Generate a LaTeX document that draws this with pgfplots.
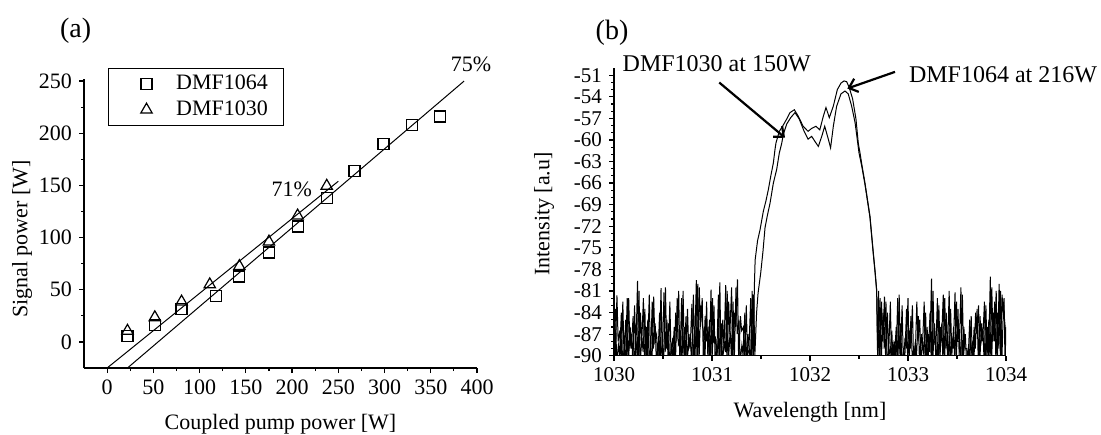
\documentclass[border=0pt]{standalone}
\usepackage{fontspec}
\setmainfont{Liberation Serif}
\usepackage{pgfplots}
\pgfplotsset{compat=1.18}
\usetikzlibrary{arrows.meta}
\pgfplotsset{
  myaxis/.style={
    scale only axis,
    axis lines=left,
    axis line style={line width=0.7pt,-},
    tick align=outside,
    major tick length=2.5pt,
    minor tick length=1.5pt,
    every tick/.style={line width=0.6pt,black},
    label style={font=\fontsize{11}{13}\selectfont},
    /pgf/number format/assume math mode=true,
    /pgf/number format/1000 sep={},
    anchor=south west,
  },
  mylegimg/.style={legend image code/.code={\path[draw=none] (0cm,0cm) -- (0.55cm,0cm); \draw[##1] plot coordinates {(0.45cm,0cm)};}},
}
\begin{document}
\begin{tikzpicture}[x=1pt,y=1pt]
\path[use as bounding box] (0,0) rectangle (550.5,217);
% ---------------- panel (a)
\begin{axis}[myaxis,
  at={(42pt,33pt)}, width=196.5pt, height=144.5pt,
  xmin=-25, xmax=400, ymin=-25, ymax=252,
  xtick={0,50,...,400}, ytick={0,50,...,250}, minor tick num=1,
  tick label style={font=\fontsize{11}{13}\selectfont},
  xlabel={Coupled pump power [W]},
  ylabel={Signal power [W]},
  xlabel style={at={(axis description cs:0.5,0)}, anchor=base, yshift=-30.5pt},
  ylabel style={at={(axis description cs:0,0.446)}, anchor=center, yshift=31pt},
  clip=false,
  legend style={at={(0.0618,1.039)}, anchor=north west, draw=black, line width=0.6pt,
    font=\fontsize{11}{13}\selectfont, inner xsep=6pt, inner ysep=2pt,
    row sep=1pt, nodes={inner ysep=1.5pt},
    /tikz/every odd column/.append style={column sep=10pt}},
  legend cell align=left,
]
\addplot[only marks, mark=square, mark size=2.75pt, mark options={line width=0.6pt, black}, mylegimg]
 coordinates {(22,5.4) (51.6,15.9) (80.5,31.6) (117.7,44.3) (143,62.8) (175,85.7) (206,110.6) (237.5,137.8) (267.5,163.9) (298.9,189.8) (329.6,208) (360.3,216)};
\addlegendentry{DMF1064}
\addplot[only marks, mark=triangle, mark size=3.3pt, mark options={line width=0.6pt, black}, mylegimg]
 coordinates {(22,10.5) (51.6,23.5) (80.5,38.5) (111,55) (143,72.5) (175,96) (206,121) (237.5,149.5)};
\addlegendentry{DMF1030}
\addplot[black, line width=0.5pt, forget plot] coordinates {(0,-25) (250,154)};
\addplot[black, line width=0.5pt, forget plot] coordinates {(22,-25) (386,250)};
\end{axis}
\node[font=\fontsize{14}{16}\selectfont] at (37.85,201.5) {(a)};
\node[font=\fontsize{11}{13}\selectfont] at (235.5,184.65) {75\%};
\node[font=\fontsize{11}{13}\selectfont] at (145.85,122.25) {71\%};
% ---------------- panel (b)
\begin{axis}[myaxis,
  at={(307pt,39.15pt)}, width=196pt, height=143.85pt,
  xmin=1030, xmax=1034, ymin=-90, ymax=-50,
  xtick={1030,1031,1032,1033,1034}, xticklabels={1030,1031,1032,1033,1034},
  ytick={-90,-87,-84,-81,-78,-75,-72,-69,-66,-63,-60,-57,-54,-51},
  yticklabels={-90,-87,-84,-81,-78,-75,-72,-69,-66,-63,-60,-57,-54,-51},
  minor x tick num=1, minor y tick num=2,
  tick label style={font=\fontsize{10.5}{12}\selectfont},
  xlabel={Wavelength [nm]},
  ylabel={Intensity [a.u]},
  xlabel style={at={(axis description cs:0.5,0)}, anchor=base, yshift=-30.8pt},
  ylabel style={at={(axis description cs:0,0.4925)}, anchor=center, yshift=35pt},
  clip mode=individual,
]
\addplot[black, line width=0.5pt] coordinates {
(1030.000,-82.0) (1030.012,-90.5) (1030.030,-81.6) (1030.042,-88.0) (1030.060,-86.5) (1030.072,-91) (1030.090,-82.5) (1030.102,-90) (1030.120,-85.0) (1030.132,-91) (1030.150,-82.0) (1030.162,-89) (1030.180,-87.0) (1030.192,-91) (1030.210,-83.0) (1030.222,-90) (1030.240,-79.6) (1030.252,-91) (1030.270,-84.0) (1030.282,-88.5) (1030.300,-82.0) (1030.312,-91) (1030.330,-86.0) (1030.342,-90) (1030.360,-81.5) (1030.372,-91) (1030.390,-82.5) (1030.402,-89) (1030.420,-85.5) (1030.432,-91) (1030.450,-88.0) (1030.462,-90.5) (1030.480,-80.6) (1030.492,-91) (1030.510,-81.2) (1030.522,-89.5) (1030.540,-85.0) (1030.552,-91) (1030.570,-82.5) (1030.582,-90) (1030.600,-87.5) (1030.612,-91) (1030.630,-84.0) (1030.642,-88) (1030.660,-81.0) (1030.672,-91) (1030.690,-82.0) (1030.702,-90) (1030.720,-86.0) (1030.732,-91) (1030.750,-83.5) (1030.762,-89) (1030.780,-88.0) (1030.792,-91) (1030.810,-81.5) (1030.822,-90) (1030.840,-79.5) (1030.852,-91) (1030.870,-80.5) (1030.882,-86) (1030.900,-82.0) (1030.912,-91) (1030.930,-84.5) (1030.942,-88) (1030.960,-86.0) (1030.972,-91) (1030.990,-80.8) (1031.002,-90) (1031.020,-83.0) (1031.032,-91) (1031.050,-88.5) (1031.062,-90) (1031.080,-79.8) (1031.092,-91) (1031.110,-85.0) (1031.122,-89) (1031.140,-80.2) (1031.152,-91) (1031.170,-82.5) (1031.182,-87) (1031.200,-80.5) (1031.212,-91) (1031.230,-84.0) (1031.242,-86) (1031.260,-79.4) (1031.272,-91) (1031.290,-84.5) (1031.302,-86.5) (1031.320,-86.0) (1031.332,-91) (1031.350,-83.0) (1031.362,-90) (1031.380,-89.0) (1031.392,-91) (1031.410,-81.0) (1031.422,-90.5) (1031.432,-80.5) (1031.440,-76.7) (1031.465,-74.0) (1031.490,-72.5) (1031.524,-69.9) (1031.550,-68.5) (1031.575,-66.9) (1031.600,-65.0) (1031.626,-63.2) (1031.643,-61.3) (1031.653,-60.4) (1031.687,-58.8) (1031.720,-58.1) (1031.762,-57.1) (1031.796,-56.2) (1031.840,-55.8) (1031.880,-56.7) (1031.930,-58.1) (1031.980,-58.8) (1032.017,-58.4) (1032.060,-58.1) (1032.100,-58.6) (1032.136,-56.7) (1032.163,-55.5) (1032.197,-56.9) (1032.238,-55.3) (1032.279,-53.0) (1032.316,-52.1) (1032.347,-51.8) (1032.374,-51.9) (1032.400,-52.7) (1032.435,-54.3) (1032.469,-57.1) (1032.493,-60.5) (1032.510,-61.8) (1032.530,-63.5) (1032.561,-66.0) (1032.612,-70.6) (1032.646,-75.7) (1032.663,-78.1) (1032.680,-80.8) (1032.690,-90.5)
(1032.700,-81.0) (1032.712,-91) (1032.730,-82.5) (1032.742,-88) (1032.760,-81.8) (1032.772,-91) (1032.790,-84.0) (1032.802,-90) (1032.820,-82.5) (1032.832,-91) (1032.850,-88.5) (1032.862,-90) (1032.880,-86.0) (1032.892,-91) (1032.910,-81.5) (1032.922,-90.5) (1032.940,-83.0) (1032.952,-91) (1032.970,-87.5) (1032.982,-89) (1033.000,-82.0) (1033.012,-91) (1033.030,-84.5) (1033.042,-90) (1033.060,-89.0) (1033.072,-91) (1033.090,-82.5) (1033.102,-88) (1033.120,-85.0) (1033.132,-91) (1033.150,-88.0) (1033.162,-90) (1033.180,-84.0) (1033.192,-91) (1033.210,-87.0) (1033.222,-89.5) (1033.240,-79.3) (1033.252,-91) (1033.270,-85.5) (1033.282,-90) (1033.300,-82.0) (1033.312,-91) (1033.330,-86.0) (1033.342,-88) (1033.360,-81.5) (1033.372,-91) (1033.390,-84.0) (1033.402,-90) (1033.420,-81.0) (1033.432,-91) (1033.450,-87.5) (1033.462,-89) (1033.480,-81.2) (1033.492,-91) (1033.510,-83.5) (1033.522,-90) (1033.540,-80.5) (1033.552,-91) (1033.570,-86.0) (1033.582,-89) (1033.600,-89.0) (1033.612,-91) (1033.630,-85.0) (1033.642,-90) (1033.660,-88.0) (1033.672,-91) (1033.690,-84.0) (1033.702,-87) (1033.720,-83.0) (1033.732,-91) (1033.750,-85.5) (1033.762,-88) (1033.780,-82.5) (1033.792,-91) (1033.810,-86.0) (1033.822,-90) (1033.840,-79.0) (1033.852,-91) (1033.870,-84.0) (1033.882,-88) (1033.900,-81.0) (1033.912,-91) (1033.930,-80.0) (1033.942,-90) (1033.960,-81.5) (1033.970,-84) (1033.980,-82.0) (1033.990,-91) (1034.000,-86.0)
};
\addplot[black, line width=0.5pt] coordinates {
(1030.015,-83.5) (1030.027,-91) (1030.045,-88.5) (1030.057,-90) (1030.075,-84.0) (1030.087,-91) (1030.105,-89.0) (1030.117,-90.5) (1030.135,-82.0) (1030.147,-91) (1030.165,-86.0) (1030.177,-89) (1030.195,-84.5) (1030.207,-91) (1030.225,-88.0) (1030.237,-90) (1030.255,-81.0) (1030.267,-91) (1030.285,-87.5) (1030.297,-89.5) (1030.315,-83.5) (1030.327,-91) (1030.345,-85.0) (1030.357,-90) (1030.375,-89.0) (1030.387,-91) (1030.405,-81.8) (1030.417,-88) (1030.435,-87.0) (1030.447,-91) (1030.465,-84.0) (1030.477,-90) (1030.495,-88.5) (1030.507,-91) (1030.525,-80.5) (1030.537,-89) (1030.555,-85.5) (1030.567,-91) (1030.585,-89.0) (1030.597,-90) (1030.615,-86.0) (1030.627,-91) (1030.645,-82.0) (1030.657,-88.5) (1030.675,-88.0) (1030.687,-91) (1030.705,-81.0) (1030.717,-90) (1030.735,-84.5) (1030.747,-91) (1030.765,-87.0) (1030.777,-89) (1030.795,-82.8) (1030.807,-91) (1030.825,-86.0) (1030.837,-90) (1030.855,-80.0) (1030.867,-91) (1030.885,-83.0) (1030.897,-85) (1030.915,-87.0) (1030.927,-91) (1030.945,-82.5) (1030.957,-90) (1030.975,-85.0) (1030.987,-91) (1031.005,-82.0) (1031.017,-88) (1031.035,-87.5) (1031.047,-91) (1031.065,-81.5) (1031.077,-90) (1031.095,-85.5) (1031.107,-91) (1031.125,-88.0) (1031.137,-89.5) (1031.155,-81.0) (1031.167,-91) (1031.185,-86.5) (1031.197,-90) (1031.215,-82.5) (1031.227,-91) (1031.245,-80.5) (1031.257,-87) (1031.275,-85.0) (1031.287,-91) (1031.305,-88.5) (1031.317,-90) (1031.335,-84.0) (1031.347,-91) (1031.365,-87.0) (1031.377,-89) (1031.395,-82.0) (1031.407,-91) (1031.425,-81.5) (1031.437,-90) (1031.455,-84.0) (1031.470,-81.3) (1031.497,-78.5) (1031.520,-75.5) (1031.541,-72.2) (1031.565,-70.5) (1031.592,-68.8) (1031.626,-66.0) (1031.660,-64.1) (1031.687,-61.8) (1031.711,-60.5) (1031.728,-59.2) (1031.762,-57.8) (1031.803,-56.9) (1031.847,-56.2) (1031.890,-57.1) (1031.940,-58.8) (1031.980,-59.9) (1032.017,-59.5) (1032.050,-60.2) (1032.085,-60.9) (1032.120,-59.5) (1032.150,-58.1) (1032.187,-59.9) (1032.210,-61.1) (1032.238,-58.1) (1032.272,-55.3) (1032.316,-53.6) (1032.357,-53.2) (1032.390,-53.6) (1032.425,-55.3) (1032.460,-57.6) (1032.500,-61.8) (1032.530,-63.8) (1032.561,-66.2) (1032.612,-70.8) (1032.646,-75.9) (1032.663,-78.3) (1032.680,-81.0) (1032.692,-90.5)
(1032.715,-82.0) (1032.727,-91) (1032.745,-84.0) (1032.757,-89) (1032.775,-82.5) (1032.787,-91) (1032.805,-89.0) (1032.817,-90) (1032.835,-86.5) (1032.847,-91) (1032.865,-88.0) (1032.877,-91) (1032.895,-82.0) (1032.907,-90) (1032.925,-85.5) (1032.937,-91) (1032.955,-89.5) (1032.967,-90.5) (1032.985,-83.5) (1032.997,-91) (1033.015,-86.5) (1033.027,-89) (1033.045,-83.0) (1033.057,-91) (1033.075,-88.0) (1033.087,-90) (1033.105,-84.5) (1033.117,-91) (1033.135,-87.0) (1033.147,-89) (1033.165,-82.5) (1033.177,-91) (1033.195,-86.0) (1033.207,-90) (1033.225,-84.0) (1033.237,-91) (1033.255,-81.0) (1033.267,-88) (1033.285,-88.5) (1033.297,-91) (1033.315,-83.0) (1033.327,-90) (1033.345,-85.5) (1033.357,-91) (1033.375,-82.0) (1033.387,-89) (1033.405,-87.0) (1033.417,-91) (1033.435,-83.5) (1033.447,-90) (1033.465,-86.0) (1033.477,-91) (1033.495,-82.5) (1033.507,-88) (1033.525,-88.0) (1033.537,-91) (1033.555,-81.5) (1033.567,-90) (1033.585,-87.0) (1033.597,-91) (1033.615,-89.0) (1033.627,-90) (1033.645,-84.5) (1033.657,-91) (1033.675,-86.0) (1033.687,-89) (1033.705,-83.5) (1033.717,-91) (1033.735,-84.5) (1033.747,-88) (1033.765,-86.5) (1033.777,-91) (1033.795,-83.0) (1033.807,-90) (1033.825,-85.0) (1033.837,-91) (1033.855,-80.5) (1033.867,-88) (1033.885,-82.5) (1033.897,-91) (1033.915,-84.0) (1033.927,-89) (1033.945,-81.0) (1033.957,-91) (1033.975,-82.5) (1033.985,-85) (1033.995,-86.5)
};
\draw[line width=1.1pt, -{Straight Barb[length=4pt,width=7pt]}] (axis cs:1031.074,-52.02) -- (axis cs:1031.745,-59.69);
\draw[line width=1.1pt, -{Straight Barb[length=4pt,width=7pt]}] (axis cs:1032.867,-50.54) -- (axis cs:1032.381,-52.85);
\end{axis}
\node[font=\fontsize{14}{16}\selectfont] at (306,200.5) {(b)};
\node[font=\fontsize{12}{14}\selectfont] at (358.35,185) {DMF1030 at 150W};
\node[font=\fontsize{12}{14}\selectfont] at (501.5,179.5) {DMF1064 at 216W};
\end{tikzpicture}
\end{document}
